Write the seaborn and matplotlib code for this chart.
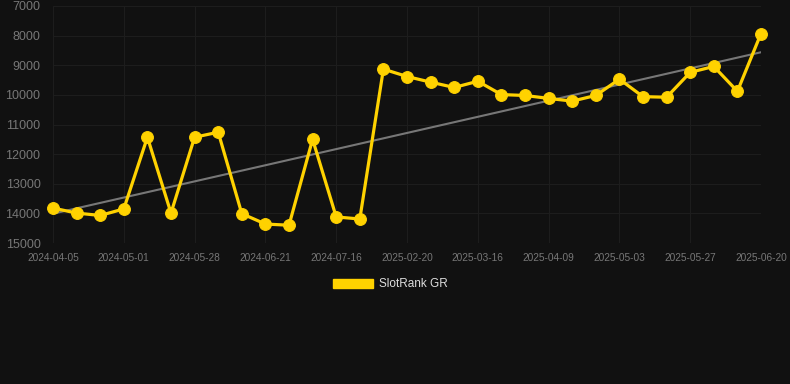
import numpy as np
import pandas as pd
import seaborn as sns
import matplotlib.pyplot as plt

# Chart data
dates = ["2024-04-05", "2024-04-13", "2024-04-22", "2024-05-01", "2024-05-10",
         "2024-05-19", "2024-05-28", "2024-06-05", "2024-06-13", "2024-06-21",
         "2024-06-29", "2024-07-08", "2024-07-16", "2024-07-24", "2025-02-12",
         "2025-02-20", "2025-02-28", "2025-03-08", "2025-03-16", "2025-03-24",
         "2025-04-01", "2025-04-09", "2025-04-17", "2025-04-25", "2025-05-03",
         "2025-05-11", "2025-05-19", "2025-05-27", "2025-06-04", "2025-06-12",
         "2025-06-20"]
ranks = [13820, 13990, 14070, 13850, 11430, 13990, 11430, 11260, 14010, 14360,
         14400, 11500, 14120, 14190, 9130, 9380, 9570, 9750, 9540, 9990,
         10020, 10120, 10210, 10020, 9470, 10060, 10080, 9240, 9040, 9880,
         7930]
y_ticks = [7000, 8000, 9000, 10000, 11000, 12000, 13000, 14000, 15000]
series_name = "SlotRank GR"

bg = "#111111"
yellow = "#FFD200"

df = pd.DataFrame({"date": dates, "rank": ranks})
df["idx"] = np.arange(len(df))

# Linear trend over the series
coef = np.polyfit(df["idx"], df["rank"], 1)
df["trend"] = np.polyval(coef, df["idx"])

sns.set_style("dark")
plt.rcParams['font.family'] = ['Liberation Sans', 'DejaVu Sans']

fig = plt.figure(figsize=(7.9, 3.84), dpi=100, facecolor=bg)
ax = fig.add_axes([53 / 790, 1 - 243 / 384, 708 / 790, 237 / 384])
ax.set_facecolor(bg)

sns.lineplot(data=df, x="idx", y="trend", ax=ax, color="#777777", linewidth=1.5, zorder=2)
sns.lineplot(data=df, x="idx", y="rank", ax=ax, color=yellow, linewidth=2.3,
             marker="o", markersize=8.5, markeredgecolor=yellow, zorder=3,
             label=series_name, clip_on=False)

ax.set_ylim(15000, 7000)
ax.set_xlim(0, len(df) - 1)
ax.set_yticks(y_ticks)
ax.set_yticklabels([str(t) for t in y_ticks], fontsize=9, color="#777777")
label_idx = df["idx"][::3]
ax.set_xticks(label_idx)
ax.set_xticklabels(df["date"][::3], fontsize=7.3, color="#777777")
ax.tick_params(axis="y", length=0, pad=9)
ax.tick_params(axis="x", length=4, color="#222222", pad=3)
ax.grid(True, color="#1d1d1d", linewidth=0.8)
ax.set_xlabel("")
ax.set_ylabel("")
for s in ax.spines.values():
    s.set_visible(False)

handles = [plt.Rectangle((0, 0), 1, 1, color=yellow)]
leg = ax.legend(handles, [series_name], loc="center", bbox_to_anchor=(0.476, -0.175),
                frameon=False, fontsize=8.5, handlelength=3.4, handleheight=0.9,
                handletextpad=0.5)
for t in leg.get_texts():
    t.set_color("#dddddd")

fig.savefig("out.png", dpi=100, facecolor=bg)
